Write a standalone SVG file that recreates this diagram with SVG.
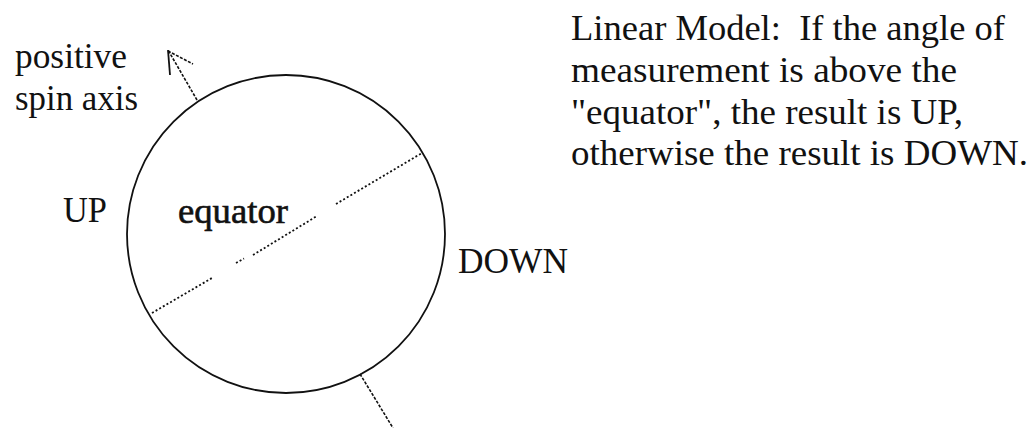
<svg xmlns="http://www.w3.org/2000/svg" width="1033" height="428" viewBox="0 0 1033 428">
<style>
text { font-family: "Liberation Serif", "Times New Roman", serif; font-size: 36px; fill: #111; }
.eq { stroke: #111; stroke-width: 0.6; }
.dot { fill: none; stroke: #111; stroke-width: 1.8; stroke-dasharray: 2 2.2; }
.axis { fill: none; stroke: #111; stroke-width: 1.6; stroke-dasharray: 3 1.5; }
</style>
<rect width="1033" height="428" fill="#fff"/>
<g id="sphere">
  <circle cx="286" cy="234" r="159" fill="none" stroke="#111" stroke-width="1.8"/>
</g>
<g id="connectors">
  <path class="axis" d="M197,100 L168,50"/>
  <path d="M168,50 L170,75" fill="none" stroke="#111" stroke-width="1.8"/>
  <path class="axis" d="M168,51 L193,64"/>
  <path class="axis" d="M360,374 L393,428"/>
  <path class="dot" d="M152,313 L212,278"/>
  <path class="dot" d="M236,263 L244,258.5"/>
  <path class="dot" d="M253,255 L317,216"/>
  <path class="dot" d="M336,204 L422,153"/>
</g>
<g id="labels">
  <text x="15" y="68" textLength="112" lengthAdjust="spacingAndGlyphs">positive</text>
  <text x="15" y="110" textLength="123" lengthAdjust="spacingAndGlyphs">spin axis</text>
  <text x="63" y="222" textLength="44" lengthAdjust="spacingAndGlyphs">UP</text>
  <text class="eq" x="178" y="223" textLength="110" lengthAdjust="spacingAndGlyphs">equator</text>
  <text x="458" y="273" textLength="110" lengthAdjust="spacingAndGlyphs">DOWN</text>
</g>
<g id="description">
  <text x="571" y="40" textLength="434" lengthAdjust="spacingAndGlyphs" xml:space="preserve">Linear Model:  If the angle of</text>
  <text x="571" y="82" textLength="386" lengthAdjust="spacingAndGlyphs">measurement is above the</text>
  <text x="571" y="124" textLength="392" lengthAdjust="spacingAndGlyphs">"equator", the result is UP,</text>
  <text x="571" y="165" textLength="457" lengthAdjust="spacingAndGlyphs">otherwise the result is DOWN.</text>
</g>
</svg>
